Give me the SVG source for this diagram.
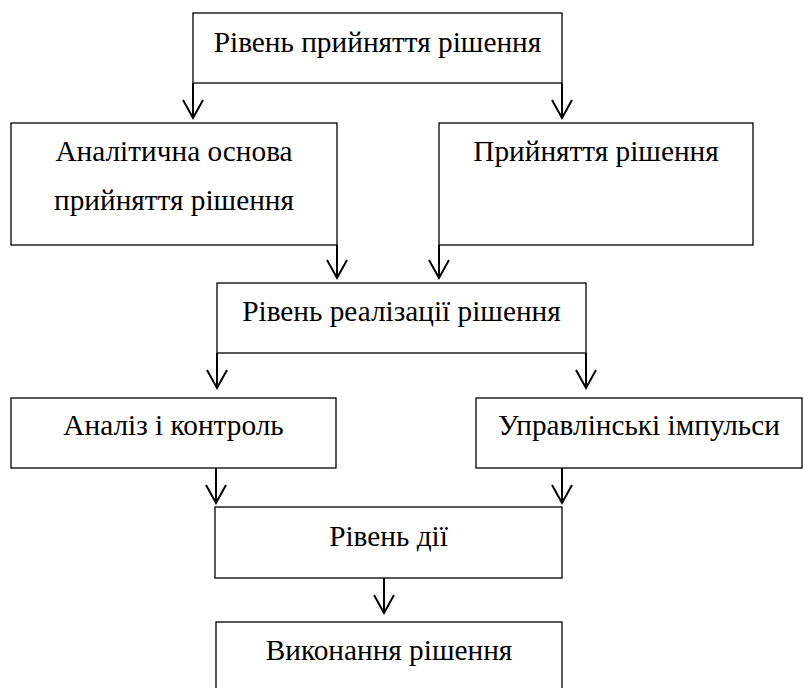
<svg xmlns="http://www.w3.org/2000/svg" width="805" height="688" viewBox="0 0 805 688">
<defs>
<style>
.box{fill:#fff;stroke:#000;stroke-width:1.3}
.t{font-family:"Liberation Serif","Times New Roman",serif;font-size:29.3px;fill:#000;text-anchor:middle}
.c{fill:none;stroke:#000;stroke-width:2}
</style>
</defs>
<rect width="805" height="688" fill="#fff"/>
<g id="connectors">
<path class="c" d="M193,83 V118"/>
<path class="c" d="M562,83 V118"/>
<path class="c" d="M337,245 V278"/>
<path class="c" d="M439,245 V278"/>
<path class="c" d="M217,353 V388"/>
<path class="c" d="M586,353 V388"/>
<path class="c" d="M216,468 V503"/>
<path class="c" d="M562,468 V503"/>
<path class="c" d="M384,578 V613"/>
<g fill="none" stroke="#000" stroke-width="2">
<path d="M183,100 L193,118 L203,100"/>
<path d="M552,100 L562,118 L572,100"/>
<path d="M327,260 L337,278 L347,260"/>
<path d="M429,260 L439,278 L449,260"/>
<path d="M207,370 L217,388 L227,370"/>
<path d="M576,370 L586,388 L596,370"/>
<path d="M206,485 L216,503 L226,485"/>
<path d="M552,485 L562,503 L572,485"/>
<path d="M374,595 L384,613 L394,595"/>
</g>
</g>
<g id="n1"><rect class="box" x="193" y="13" width="369" height="70"/><text class="t" x="377.5" y="52">Рівень прийняття рішення</text></g>
<g id="n2"><rect class="box" x="11" y="123" width="326" height="122"/><text class="t" x="174" y="161">Аналітична основа</text><text class="t" x="174" y="210">прийняття рішення</text></g>
<g id="n3"><rect class="box" x="439" y="123" width="314" height="122"/><text class="t" x="596" y="161">Прийняття рішення</text></g>
<g id="n4"><rect class="box" x="217" y="283" width="369" height="70"/><text class="t" x="401.5" y="321">Рівень реалізації рішення</text></g>
<g id="n5"><rect class="box" x="11" y="398" width="325" height="70"/><text class="t" x="173.5" y="435">Аналіз і контроль</text></g>
<g id="n6"><rect class="box" x="476" y="398" width="326" height="70"/><text class="t" x="639" y="435">Управлінські імпульси</text></g>
<g id="n7"><rect class="box" x="215" y="507" width="347" height="71"/><text class="t" x="388.5" y="546">Рівень дії</text></g>
<g id="n8"><rect class="box" x="216" y="622" width="346" height="72"/><text class="t" x="389" y="660">Виконання рішення</text></g>
</svg>
